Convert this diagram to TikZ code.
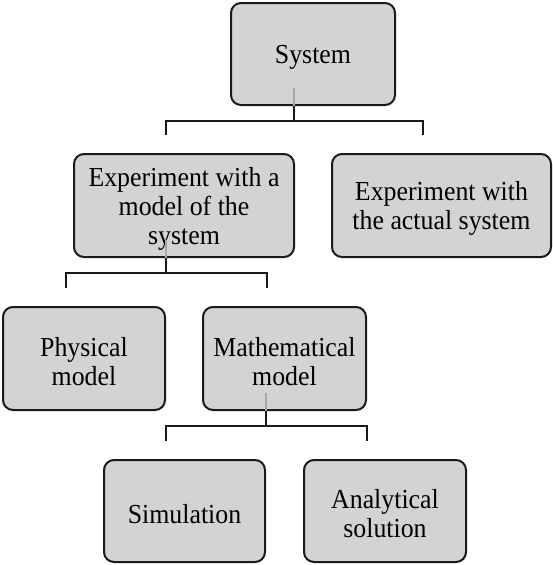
\documentclass[tikz,border=0pt]{standalone}
\usepackage{fontspec}
\setmainfont[FakeStretch=0.94]{Liberation Serif}
\definecolor{boxgray}{HTML}{D3D3D3}
\definecolor{stubgray}{HTML}{A8A8A8}
\definecolor{edge}{HTML}{1A1A1A}
\newcommand\topstrut{\rule{0pt}{25pt}}
\begin{document}
\begin{tikzpicture}[x=1pt,y=-1pt,
  box/.style={draw=edge, line width=2pt, fill=boxgray, rounded corners=10pt,
    align=center, inner sep=0pt, text=black,
    font=\fontsize{27.5}{29}\selectfont},
  link/.style={line width=2pt, draw=edge},
  stub/.style={line width=1.5pt, draw=stubgray}]
\useasboundingbox (0,0) rectangle (553,565);
\fill[white] (0,0) rectangle (553,565);
% boxes
\node[box, minimum width=164pt, minimum height=102pt] (sys) at (313,54) {\topstrut System};
\node[box, minimum width=220pt, minimum height=103pt] (model) at (184,205.5) {\topstrut Experiment with a\\model of the\\system};
\node[box, minimum width=219pt, minimum height=103pt] (actual) at (441.5,205.5) {\topstrut Experiment with\\the actual system};
\node[box, minimum width=162pt, minimum height=103pt] (phys) at (84,358.5) {\topstrut Physical\\model};
\node[box, minimum width=163pt, minimum height=103pt] (math) at (284.5,358.5) {\topstrut Mathematical\\model};
\node[box, minimum width=161pt, minimum height=102pt] (sim) at (184.5,511) {\topstrut Simulation};
\node[box, minimum width=162pt, minimum height=102pt] (anal) at (385,511) {\topstrut Analytical\\solution};
% bracket coordinates
\coordinate (s1) at (294,88);
\coordinate (b1) at (294,121);
\coordinate (b1l) at (166,135);
\coordinate (b1r) at (423,135);
\coordinate (s2) at (166,240);
\coordinate (b2) at (166,273);
\coordinate (b2l) at (66,288);
\coordinate (b2r) at (267,288);
\coordinate (s3) at (266,393);
\coordinate (b3) at (266,426);
\coordinate (b3l) at (166,441);
\coordinate (b3r) at (367,441);
% connectors
\draw[stub] (s1) -- (sys.south -| s1);
\draw[link] (sys.south -| s1) -- (b1);
\draw[link] (b1l) -- (b1l |- b1) -- (b1r |- b1) -- (b1r);
\draw[stub] (s2) -- (model.south -| s2);
\draw[link] (model.south -| s2) -- (b2);
\draw[link] (b2l) -- (b2l |- b2) -- (b2r |- b2) -- (b2r);
\draw[stub] (s3) -- (math.south -| s3);
\draw[link] (math.south -| s3) -- (b3);
\draw[link] (b3l) -- (b3l |- b3) -- (b3r |- b3) -- (b3r);
\end{tikzpicture}
\end{document}
